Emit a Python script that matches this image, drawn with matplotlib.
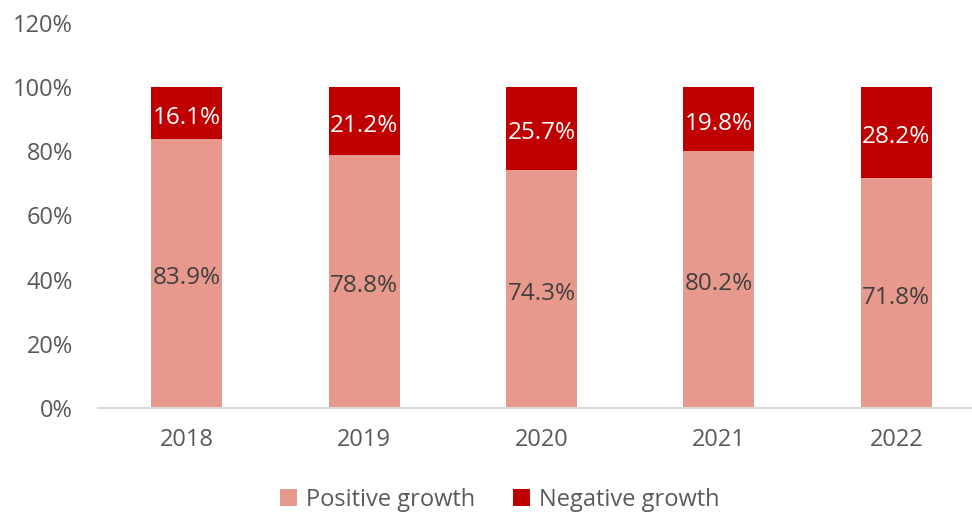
import matplotlib
matplotlib.use("Agg")
import matplotlib.pyplot as plt
from matplotlib.ticker import FuncFormatter

years = ["2018", "2019", "2020", "2021", "2022"]
positive = [83.9, 78.8, 74.3, 80.2, 71.8]
negative = [16.1, 21.2, 25.7, 19.8, 28.2]
yticks = [0, 20, 40, 60, 80, 100, 120]

plt.rcParams['font.family'] = ['Open Sans', 'DejaVu Sans']
TXT = '#595959'
LBL = '#404040'
POS_C = '#E8998D'
NEG_C = '#C00000'

fig = plt.figure(figsize=(9.72, 5.12), dpi=100)
ax = fig.add_axes([98/972, (512-408)/512, (985-98)/972, (408-23)/512])

x = list(range(len(years)))
w = 0.40
b1 = ax.bar(x, positive, w, color=POS_C, label='Positive growth')
b2 = ax.bar(x, negative, w, bottom=positive, color=NEG_C, label='Negative growth')

for i in x:
    ax.annotate(f"{positive[i]:.1f}%", (i, positive[i] / 2), xytext=(0, -3.5),
                textcoords='offset points', ha='center', va='center',
                fontsize=17.5, color=LBL)
    ax.annotate(f"{negative[i]:.1f}%", (i, positive[i] + negative[i] / 2), xytext=(0, -3.5),
                textcoords='offset points', ha='center', va='center',
                fontsize=17.5, color='white')

ax.set_xlim(-0.5, len(years) - 0.5)
ax.set_ylim(0, 120)
ax.set_yticks(yticks)
ax.yaxis.set_major_formatter(FuncFormatter(lambda v, p: f"{v:.0f}%"))
ax.set_xticks(x)
ax.set_xticklabels(years)
ax.tick_params(axis='both', length=0, labelsize=17, colors=TXT)
ax.tick_params(axis='x', pad=14.5)
ax.tick_params(axis='y', pad=18)
for s in ['top', 'right', 'left']:
    ax.spines[s].set_visible(False)
ax.spines['bottom'].set_color('#D9D9D9')
ax.spines['bottom'].set_linewidth(1.5)

leg = fig.legend(handles=[b1, b2], loc='center', bbox_to_anchor=(500/972, 1 - 500/512),
                 ncol=2, frameon=False, fontsize=17, handlelength=0.7, handleheight=0.7,
                 handletextpad=0.4, columnspacing=1.6)
for t in leg.get_texts():
    t.set_color(TXT)

fig.savefig('out.png', dpi=100)
